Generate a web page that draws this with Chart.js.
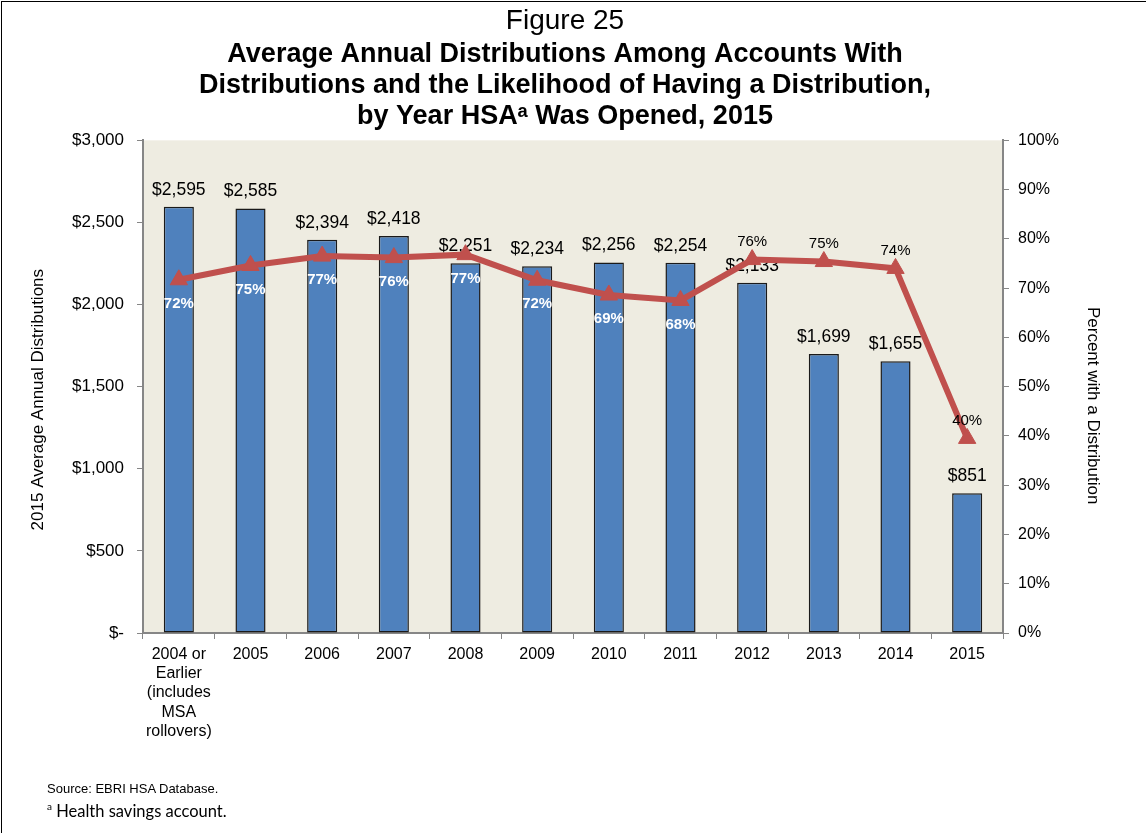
<!DOCTYPE html>
<html>
<head>
<meta charset="utf-8">
<script src="https://cdn.jsdelivr.net/npm/chart.js@4.4.0/dist/chart.umd.min.js"></script>
<style>
  html, body { margin: 0; padding: 0; background: #fff; }
  #wrap { position: relative; width: 1146px; height: 833px; overflow: hidden; }
  #frame { position: absolute; left: 1px; top: 1px; width: 1200px; height: 900px; border-left: 1px solid #000; border-top: 1px solid #000; pointer-events: none; }
  #src { position: absolute; left: 47px; top: 781px; font: 13px "Liberation Sans", Arial, sans-serif; color: #000; }
  #note { position: absolute; left: 47px; top: 800px; font: 16.5px Lato, "Open Sans", sans-serif; color: #000; }
  #note sup { font-size: 10px; }
</style>
</head>
<body>
<div id="wrap">
  <canvas id="chart" width="1146" height="833"></canvas>
  <div id="frame"></div>
  <div id="src">Source: EBRI HSA Database.</div>
  <div id="note"><sup>a</sup> Health savings account.</div>
</div>
<script>
const categories = [
    ['2004 or', 'Earlier', '(includes', 'MSA', 'rollovers)'],
    '2005', '2006', '2007', '2008', '2009', '2010', '2011', '2012', '2013', '2014', '2015'
];
const avgDistributions = [2595, 2585, 2394, 2418, 2251, 2234, 2256, 2254, 2133, 1699, 1655, 851];
const pctWithDistribution = [71.7, 74.6, 76.5, 76.2, 76.8, 71.6, 68.6, 67.5, 75.8, 75.4, 74.0, 39.5];
const leftTicks = [0, 500, 1000, 1500, 2000, 2500, 3000];
const rightTicks = [0, 10, 20, 30, 40, 50, 60, 70, 80, 90, 100];
const leftTitle = '2015 Average Annual Distributions';
const rightTitle = 'Percent with a Distribution';

const FONT = '"Liberation Sans", Arial, sans-serif';
const axisGray = '#868686';

function dollars(v) {
    return v === 0 ? '$-' : '$' + v.toLocaleString('en-US');
}

// plot area fill
const plotBg = {
    id: 'plotBg',
    beforeDraw(chart) {
        const a = chart.chartArea;
        const c = chart.ctx;
        c.save();
        c.fillStyle = '#EEECE1';
        c.fillRect(a.left, a.top, a.right - a.left, a.bottom - a.top);
        c.restore();
    }
};

// axis titles drawn by hand so they can sit a bit below centre like excel does
const axisTitles = {
    id: 'axisTitles',
    afterDraw(chart) {
        const c = chart.ctx;
        const mid = (chart.chartArea.top + chart.chartArea.bottom) / 2;
        c.save();
        c.font = '17px ' + FONT;
        c.fillStyle = '#000';
        c.textAlign = 'center';
        c.textBaseline = 'middle';
        c.translate(38, mid + 13);
        c.rotate(-Math.PI / 2);
        c.fillText(leftTitle, 0, 0);
        c.restore();
        c.save();
        c.font = '17px ' + FONT;
        c.fillStyle = '#000';
        c.textAlign = 'center';
        c.textBaseline = 'middle';
        c.translate(1093, mid + 19);
        c.rotate(Math.PI / 2);
        c.fillText(rightTitle, 0, 0);
        c.restore();
    }
};

// value labels, bars first (under the line), then percents on top
const valueLabels = {
    id: 'valueLabels',
    afterDatasetDraw(chart, args) {
        if (args.index !== 0) return;
        const c = chart.ctx;
        c.save();
        c.font = '17.5px ' + FONT;
        c.fillStyle = '#000';
        c.textAlign = 'center';
        c.textBaseline = 'middle';
        args.meta.data.forEach((bar, i) => {
            c.fillText(dollars(avgDistributions[i]), bar.x, bar.y - 17);
        });
        c.restore();
    },
    afterDatasetsDraw(chart) {
        const meta = chart.getDatasetMeta(1);
        const c = chart.ctx;
        c.save();
        c.textAlign = 'center';
        c.textBaseline = 'middle';
        meta.data.forEach((pt, i) => {
            const txt = Math.round(pctWithDistribution[i]) + '%';
            if (i < 8) {
                c.font = 'bold 15px ' + FONT;
                c.fillStyle = '#fff';
                c.fillText(txt, pt.x, pt.y + 24);
            } else {
                c.font = '15px ' + FONT;
                c.fillStyle = '#000';
                c.fillText(txt, pt.x, pt.y - 18);
            }
        });
        c.restore();
    }
};

var ctx = document.getElementById('chart').getContext('2d');

var chart = new Chart(ctx, { //eslint-disable-line
    type: 'bar',
    data: {
        labels: categories,
        datasets: [
            {
                type: 'bar',
                label: leftTitle,
                data: avgDistributions,
                backgroundColor: '#4F81BD',
                borderColor: '#1A1A1A',
                borderWidth: 1.5,
                borderSkipped: false,
                barPercentage: 0.42,
                categoryPercentage: 1,
                yAxisID: 'y',
                order: 1
            },
            {
                type: 'line',
                label: rightTitle,
                data: pctWithDistribution,
                borderColor: '#C0504D',
                backgroundColor: '#C0504D',
                borderWidth: 6,
                pointStyle: 'triangle',
                pointRadius: 10,
                pointBorderWidth: 1,
                tension: 0,
                yAxisID: 'y1',
                order: 0
            }
        ]
    },
    options: {
        responsive: false,
        animation: false,
        layout: { padding: { left: 20, right: 36, top: 0, bottom: 0 } },
        plugins: {
            legend: { display: false },
            tooltip: { enabled: false },
            title: {
                display: true,
                text: 'Figure 25',
                color: '#000',
                font: { family: FONT, size: 28, weight: 'normal', lineHeight: 1.15 },
                padding: { top: 5, bottom: 0 }
            },
            subtitle: {
                display: true,
                text: [
                    'Average Annual Distributions Among Accounts With',
                    'Distributions and the Likelihood of Having a Distribution,',
                    'by Year HSA\u1D43 Was Opened, 2015'
                ],
                color: '#000',
                font: { family: FONT, size: 27, weight: 'bold', lineHeight: 1.15 },
                padding: { top: 2, bottom: 8 }
            }
        },
        scales: {
            x: {
                offset: true,
                grid: {
                    display: true,
                    offset: true,
                    drawOnChartArea: false,
                    drawTicks: true,
                    tickLength: 6,
                    tickColor: axisGray
                },
                border: { display: true, color: axisGray, width: 2 },
                ticks: {
                    color: '#000',
                    font: { family: FONT, size: 16, lineHeight: 1.2 },
                    padding: 6,
                    maxRotation: 0,
                    autoSkip: false
                },
                afterFit(scale) { scale.height = 200; }
            },
            y: {
                position: 'left',
                min: 0,
                max: 3000,
                afterBuildTicks(scale) { scale.ticks = leftTicks.map(v => ({ value: v })); },
                grid: {
                    display: true,
                    drawOnChartArea: false,
                    drawTicks: true,
                    tickLength: 6,
                    tickColor: axisGray
                },
                border: { display: true, color: axisGray, width: 2 },
                ticks: {
                    color: '#000',
                    font: { family: FONT, size: 17 },
                    padding: 13,
                    callback: v => dollars(v)
                },
                afterFit(scale) { scale.width = 123; }
            },
            y1: {
                position: 'right',
                min: 0,
                max: 100,
                afterBuildTicks(scale) { scale.ticks = rightTicks.map(v => ({ value: v })); },
                grid: {
                    display: true,
                    drawOnChartArea: false,
                    drawTicks: true,
                    tickLength: 6,
                    tickColor: axisGray
                },
                border: { display: true, color: axisGray, width: 2 },
                ticks: {
                    color: '#000',
                    font: { family: FONT, size: 16 },
                    padding: 9,
                    callback: v => v + '%'
                },
                afterFit(scale) { scale.width = 107; }
            }
        }
    },
    plugins: [plotBg, valueLabels, axisTitles]
});
</script>
</body>
</html>
